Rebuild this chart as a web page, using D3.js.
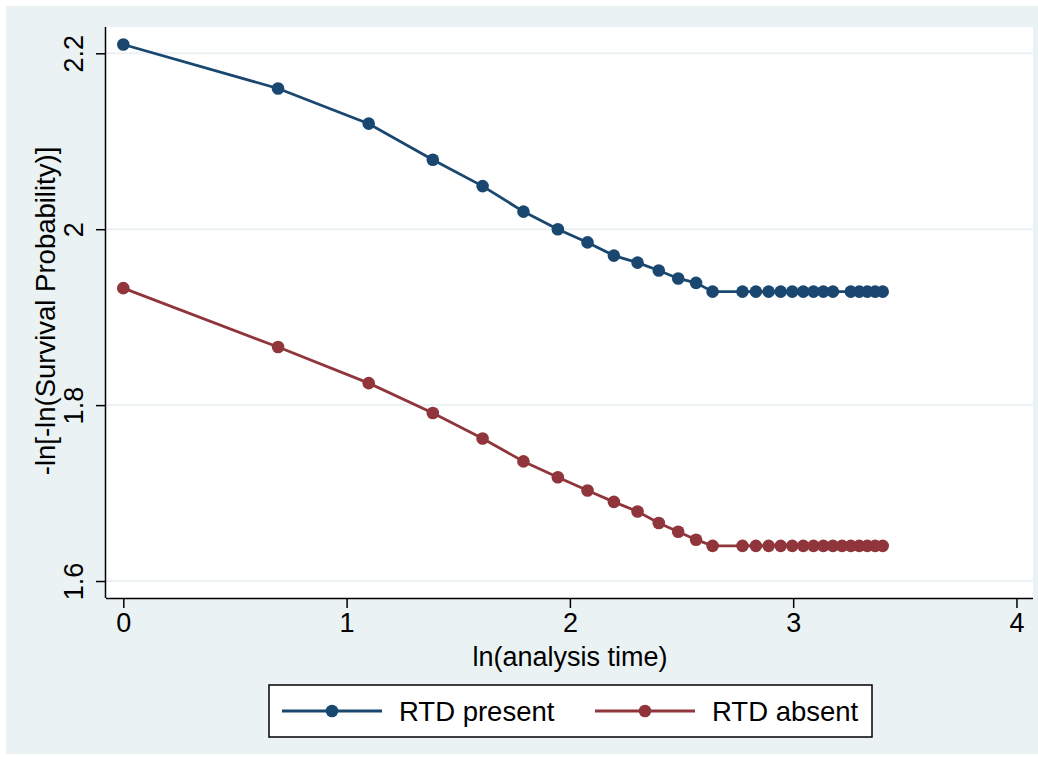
<!DOCTYPE html>
<html><head><meta charset="utf-8">
<script src="https://cdn.jsdelivr.net/npm/d3@7"></script>
<style>body{margin:0;background:#fff}svg{display:block}text{font-family:"Liberation Sans",Arial,sans-serif;fill:#000}</style>
</head><body>
<svg id="c" width="1038" height="759"></svg>
<script>
const presentX = [0, 0.693, 1.099, 1.386, 1.609, 1.792, 1.946, 2.079, 2.197, 2.303, 2.398, 2.485, 2.565, 2.639, 2.773, 2.833, 2.890, 2.944, 2.996, 3.045, 3.091, 3.135, 3.178, 3.258, 3.296, 3.332, 3.367, 3.401];
const presentY = [2.210, 2.160, 2.120, 2.079, 2.049, 2.020, 2.000, 1.985, 1.970, 1.962, 1.953, 1.944, 1.939, 1.929, 1.929, 1.929, 1.929, 1.929, 1.929, 1.929, 1.929, 1.929, 1.929, 1.929, 1.929, 1.929, 1.929, 1.929];
const absentX = [0, 0.693, 1.099, 1.386, 1.609, 1.792, 1.946, 2.079, 2.197, 2.303, 2.398, 2.485, 2.565, 2.639, 2.773, 2.833, 2.890, 2.944, 2.996, 3.045, 3.091, 3.135, 3.178, 3.219, 3.258, 3.296, 3.332, 3.367, 3.401];
const absentY = [1.933, 1.866, 1.825, 1.791, 1.762, 1.736, 1.718, 1.703, 1.690, 1.679, 1.666, 1.656, 1.647, 1.640, 1.640, 1.640, 1.640, 1.640, 1.640, 1.640, 1.640, 1.640, 1.640, 1.640, 1.640, 1.640, 1.640, 1.640, 1.640];
const xTicks = [0, 1, 2, 3, 4];
const yTicks = [1.6, 1.8, 2.0, 2.2];
const yTickLabels = ["1.6", "1.8", "2", "2.2"];
const seriesNames = ["RTD present", "RTD absent"];
const colors = ["#1a476f", "#90353b"];

const svg = d3.select("#c");
const L = 106, R = 1033, T = 27, B = 598;
svg.append("rect").attr("x", 6).attr("y", 6).attr("width", 1032).attr("height", 748).attr("fill", "#eaf2f3");
svg.append("rect").attr("x", L).attr("y", T).attr("width", R - L).attr("height", B - T).attr("fill", "#fff");

const x = d3.scaleLinear().domain([-0.0775, 4.074]).range([L, R]);
const y = d3.scaleLinear().domain([1.5807, 2.2299]).range([B, T]);

// gridlines
svg.append("g").selectAll("line").data(yTicks).join("line")
  .attr("x1", L).attr("x2", R).attr("y1", d => y(d)).attr("y2", d => y(d))
  .attr("stroke", "#eaf2f3").attr("stroke-width", 2);

// axes
const xAxis = d3.axisBottom(x).tickValues(xTicks).tickSize(10).tickFormat(d3.format("d"));
const gx = svg.append("g").attr("transform", `translate(0,${B})`).call(xAxis);
gx.select(".domain").attr("d", `M${L},0.5H${R}`).attr("stroke", "#000").attr("stroke-width", 1.5);
gx.selectAll(".tick line").attr("stroke", "#000").attr("stroke-width", 1.5);
gx.selectAll(".tick text").attr("font-size", 27).attr("y", 15).attr("dy", "0.71em").attr("font-family", "Liberation Sans, Arial, sans-serif").attr("fill", "#000");

const yAxis = d3.axisLeft(y).tickValues(yTicks).tickSize(10).tickFormat((d, i) => yTickLabels[i]);
const gy = svg.append("g").attr("transform", `translate(${L},0)`).call(yAxis);
gy.select(".domain").attr("d", `M-0.5,${T}V${B}`).attr("stroke", "#000").attr("stroke-width", 1.5);
gy.selectAll(".tick line").attr("stroke", "#000").attr("stroke-width", 1.5);
gy.selectAll(".tick text").attr("font-size", 27).attr("x", null).attr("dy", null)
  .attr("text-anchor", "middle").attr("transform", "translate(-23,0) rotate(-90)")
  .attr("font-family", "Liberation Sans, Arial, sans-serif").attr("fill", "#000");

// axis titles
svg.append("text").attr("x", 570).attr("y", 666).attr("text-anchor", "middle").attr("font-size", 27).text("ln(analysis time)");
svg.append("text").attr("transform", "translate(55,311) rotate(-90)").attr("text-anchor", "middle").attr("font-size", 27.5).text("-ln[-ln(Survival Probability)]");

// series
const series = [
  {xs: presentX, ys: presentY},
  {xs: absentX, ys: absentY}
];
const line = d3.line().x(d => x(d[0])).y(d => y(d[1]));
series.forEach((s, i) => {
  const pts = s.xs.map((v, j) => [v, s.ys[j]]);
  svg.append("path").attr("d", line(pts)).attr("fill", "none").attr("stroke", colors[i]).attr("stroke-width", 2.8);
  svg.append("g").selectAll("circle").data(pts).join("circle")
    .attr("cx", d => x(d[0])).attr("cy", d => y(d[1])).attr("r", 6.3).attr("fill", colors[i]);
});

// legend
const lg = svg.append("g");
lg.append("rect").attr("x", 269).attr("y", 685).attr("width", 603).attr("height", 52).attr("fill", "#fff").attr("stroke", "#000").attr("stroke-width", 1.5);
const legX = [282, 595];
seriesNames.forEach((n, i) => {
  lg.append("line").attr("x1", legX[i]).attr("x2", legX[i] + 100).attr("y1", 711).attr("y2", 711).attr("stroke", colors[i]).attr("stroke-width", 2.8);
  lg.append("circle").attr("cx", legX[i] + 50).attr("cy", 711).attr("r", 6.3).attr("fill", colors[i]);
  lg.append("text").attr("x", legX[i] + 117).attr("y", 721).attr("font-size", 27.5).text(n);
});
</script>
</body></html>
